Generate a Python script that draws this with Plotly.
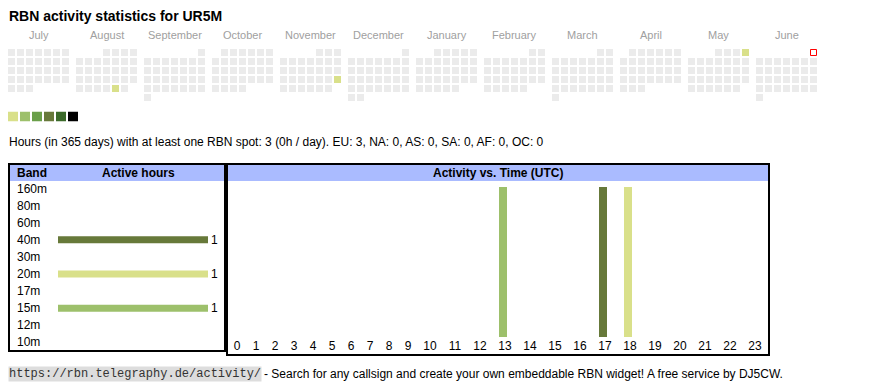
import calendar
import datetime as dt
import plotly.graph_objects as go

W, H = 870, 390

# ---------------- data ----------------
callsign = "UR5M"
period_days = 365
month_keys = ["2024-07", "2024-08", "2024-09", "2024-10", "2024-11", "2024-12",
              "2025-01", "2025-02", "2025-03", "2025-04", "2025-05", "2025-06"]
month_labels = ["July", "August", "September", "October", "November", "December",
                "January", "February", "March", "April", "May", "June"]
active_days = ["2024-08-30", "2024-11-24", "2025-05-04"]
active_day_hours = [1, 1, 1]
today = "2025-06-01"

level_colors = ["#ebebeb", "#d9e08a", "#9dc06b", "#6a9f49", "#67793a", "#3b6a2a", "#000000"]
legend_levels = [1, 2, 3, 4, 5, 6]

continents = ["EU", "NA", "AS", "SA", "AF", "OC"]
continent_hours = [3, 0, 0, 0, 0, 0]

bands = ["160m", "80m", "60m", "40m", "30m", "20m", "17m", "15m", "12m", "10m"]
band_hours = [0, 0, 0, 1, 0, 1, 0, 1, 0, 0]
band_colors = {"40m": "#67793a", "20m": "#d9e08a", "15m": "#9dc06b"}

hour_labels = ["0", "1", "2", "3", "4", "5", "6", "7", "8", "9", "10", "11",
               "12", "13", "14", "15", "16", "17", "18", "19", "20", "21", "22", "23"]
spot_hours = [13, 17, 18]
spot_bands = ["15m", "40m", "20m"]
spot_counts = [1, 1, 1]

# ---------------- helpers ----------------
def fx(x):
    return x / W


def fy(y):
    return 1 - y / H


FONT = "Liberation Sans, Arial, sans-serif"
HEADER_BLUE = "#aabbff"

hours_by_day = dict(zip(active_days, active_day_hours))


def level_of(h):
    return 0 if h <= 0 else min(6, h)


n_levels = len(level_colors)
colorscale = []
for i, c in enumerate(level_colors):
    colorscale.append([i / n_levels, c])
    colorscale.append([(i + 1) / n_levels, c])

fig = go.Figure()
layout_axes = {}
annotations = []
shapes = []


def hidden(**kw):
    d = dict(visible=False, fixedrange=True, showgrid=False, zeroline=False)
    d.update(kw)
    return d


# ---------------- calendar ----------------
today_date = dt.date.fromisoformat(today)
for i, key in enumerate(month_keys):
    n = i + 1
    year, mon = map(int, key.split("-"))
    first = dt.date(year, mon, 1)
    offset = first.weekday()
    ndays = calendar.monthrange(year, mon)[1]
    z = [[None] * 7 for _ in range(6)]
    for d in range(1, ndays + 1):
        day = dt.date(year, mon, d)
        r, c = divmod(offset + d - 1, 7)
        z[r][c] = level_of(hours_by_day.get(day.isoformat(), 0))
    xa = "x" if n == 1 else f"x{n}"
    ya = "y" if n == 1 else f"y{n}"
    fig.add_trace(go.Heatmap(
        z=z, x=list(range(7)), y=list(range(6)), xaxis=xa, yaxis=ya,
        colorscale=colorscale, zmin=-0.5, zmax=n_levels - 0.5,
        xgap=2, ygap=2, showscale=False, hoverinfo="skip"))
    if today_date.year == year and today_date.month == mon:
        r, c = divmod(offset + today_date.day - 1, 7)
        fig.add_trace(go.Scatter(
            x=[c], y=[r], xaxis=xa, yaxis=ya, mode="markers",
            marker=dict(symbol="square", size=6, color="#ffffff",
                        line=dict(color="#ff0000", width=1)),
            hoverinfo="skip"))
    start = 8 + i * 68
    sfx = "" if n == 1 else str(n)
    layout_axes[f"xaxis{sfx}"] = hidden(domain=[fx(start - 1), fx(start + 62)],
                                        range=[-0.5, 6.5], anchor=f"y{sfx}")
    layout_axes[f"yaxis{sfx}"] = hidden(domain=[fy(102), fy(48)],
                                        range=[5.5, -0.5], anchor=f"x{sfx}")
    annotations.append(dict(text=month_labels[i], xref=f"x{sfx} domain", yref="paper",
                            x=0.5, y=fy(35), xanchor="center", yanchor="middle",
                            showarrow=False, font=dict(size=11, color="#a0a0a0")))

# ---------------- level legend ----------------
fig.add_trace(go.Heatmap(
    z=[legend_levels], x=list(range(len(legend_levels))), y=[0],
    xaxis="x13", yaxis="y13", colorscale=colorscale,
    zmin=-0.5, zmax=n_levels - 0.5, xgap=2, ygap=0,
    showscale=False, hoverinfo="skip"))
layout_axes["xaxis13"] = hidden(domain=[fx(7), fx(79)], range=[-0.5, len(legend_levels) - 0.5], anchor="y13")
layout_axes["yaxis13"] = hidden(domain=[fy(121.5), fy(111.5)], range=[-0.5, 0.5], anchor="x13")

# ---------------- summary text ----------------
total_hours = sum(active_day_hours)
per_day = round(total_hours / period_days)
cont_txt = ", ".join(f"{c}: {v}" for c, v in zip(continents, continent_hours))
annotations.append(dict(
    text=f"Hours (in {period_days} days) with at least one RBN spot: {total_hours} ({per_day}h / day). {cont_txt}",
    xref="paper", yref="paper", x=fx(7), y=fy(142), xanchor="left", yanchor="middle",
    showarrow=False, font=dict(size=12, color="#000000")))

annotations.append(dict(
    text=f"<b>RBN activity statistics for {callsign}</b>",
    xref="paper", yref="paper", x=fx(7), y=fy(16), xanchor="left", yanchor="middle",
    showarrow=False, font=dict(size=14, color="#000000")))

# ---------------- band table ----------------
fig.add_trace(go.Bar(
    x=band_hours, y=bands, orientation="h", xaxis="x14", yaxis="y14",
    marker=dict(color=[band_colors.get(b, "#cccccc") for b in bands], line=dict(width=0)),
    width=0.41, text=[str(v) if v else "" for v in band_hours],
    textposition="outside", constraintext="none", cliponaxis=False,
    textfont=dict(size=12, color="#000000"), hoverinfo="skip"))
layout_axes["xaxis14"] = hidden(domain=[fx(58), fx(208)], range=[0, max(band_hours)], anchor="y14")
layout_axes["yaxis14"] = hidden(domain=[fy(351), fy(180)], type="category",
                                categoryorder="array", categoryarray=bands,
                                range=[len(bands) - 0.5, -0.5], anchor="x14")
for b in bands:
    annotations.append(dict(text=b, xref="paper", yref="y14", x=fx(15), y=b,
                            xanchor="left", yanchor="middle", showarrow=False,
                            font=dict(size=12, color="#000000")))

# ---------------- hour chart ----------------
# column widths follow the width of each hour label (like an html table)
char_w, cell_pad = 6.0, 13.0
col_w = [cell_pad + char_w * len(lbl) for lbl in hour_labels]
centers = []
edge = 0.0
for w in col_w:
    centers.append(edge + w / 2)
    edge += w
total_w = edge

fig.add_trace(go.Bar(
    x=[centers[h] for h in spot_hours], y=spot_counts, xaxis="x15", yaxis="y15",
    marker=dict(color=[band_colors[b] for b in spot_bands], line=dict(width=0)),
    width=8, offset=-6, hoverinfo="skip"))
layout_axes["xaxis15"] = dict(domain=[fx(227.5), fx(227.5 + total_w)], range=[0, total_w],
                              anchor="y15", tickmode="array", tickvals=centers,
                              ticktext=hour_labels, ticks="", showgrid=False,
                              zeroline=False, showline=False, fixedrange=True,
                              tickfont=dict(size=12, color="#000000"))
layout_axes["yaxis15"] = hidden(domain=[fy(337), fy(187)], range=[0, max(spot_counts)], anchor="x15")

# ---------------- boxes / headers ----------------
shapes.append(dict(type="rect", xref="paper", yref="paper", x0=fx(10), x1=fx(224),
                   y0=fy(181), y1=fy(165), fillcolor=HEADER_BLUE, line=dict(width=0), layer="below"))
shapes.append(dict(type="rect", xref="paper", yref="paper", x0=fx(228), x1=fx(768),
                   y0=fy(181), y1=fy(165), fillcolor=HEADER_BLUE, line=dict(width=0), layer="below"))
shapes.append(dict(type="rect", xref="paper", yref="paper", x0=fx(9), x1=fx(225),
                   y0=fy(351), y1=fy(164), line=dict(color="#000000", width=2)))
shapes.append(dict(type="rect", xref="paper", yref="paper", x0=fx(227), x1=fx(769),
                   y0=fy(355), y1=fy(164), line=dict(color="#000000", width=2)))
annotations.append(dict(text="<b>Band</b>", xref="paper", yref="paper", x=fx(15), y=fy(173),
                        xanchor="left", yanchor="middle", showarrow=False,
                        font=dict(size=12, color="#000000")))
annotations.append(dict(text="<b>Active hours</b>", xref="paper", yref="paper", x=fx(138), y=fy(173),
                        xanchor="center", yanchor="middle", showarrow=False,
                        font=dict(size=12, color="#000000")))
annotations.append(dict(text="<b>Activity vs. Time (UTC)</b>", xref="paper", yref="paper",
                        x=fx(498), y=fy(173), xanchor="center", yanchor="middle",
                        showarrow=False, font=dict(size=12, color="#000000")))

# ---------------- footer ----------------
annotations.append(dict(text="https://rbn.telegraphy.de/activity/", xref="paper", yref="paper",
                        x=fx(8), y=fy(374), xanchor="left", yanchor="middle", showarrow=False,
                        bgcolor="#dddddd", borderpad=0,
                        font=dict(size=12, color="#333333",
                                  family="Liberation Mono, DejaVu Sans Mono, monospace")))
annotations.append(dict(text="- Search for any callsign and create your own embeddable RBN widget! A free service by DJ5CW.",
                        xref="paper", yref="paper", x=fx(262), y=fy(374), xanchor="left",
                        yanchor="middle", showarrow=False, font=dict(size=12, color="#000000")))

fig.update_layout(
    width=W, height=H, margin=dict(l=0, r=0, t=0, b=0, pad=0),
    paper_bgcolor="#ffffff", plot_bgcolor="rgba(0,0,0,0)",
    showlegend=False, font=dict(family=FONT, size=12, color="#000000"),
    annotations=annotations, shapes=shapes, barmode="overlay",
    **layout_axes)

fig.write_html("out.html", config={"displayModeBar": False, "staticPlot": True},
               post_script="document.body.style.margin='0';")
